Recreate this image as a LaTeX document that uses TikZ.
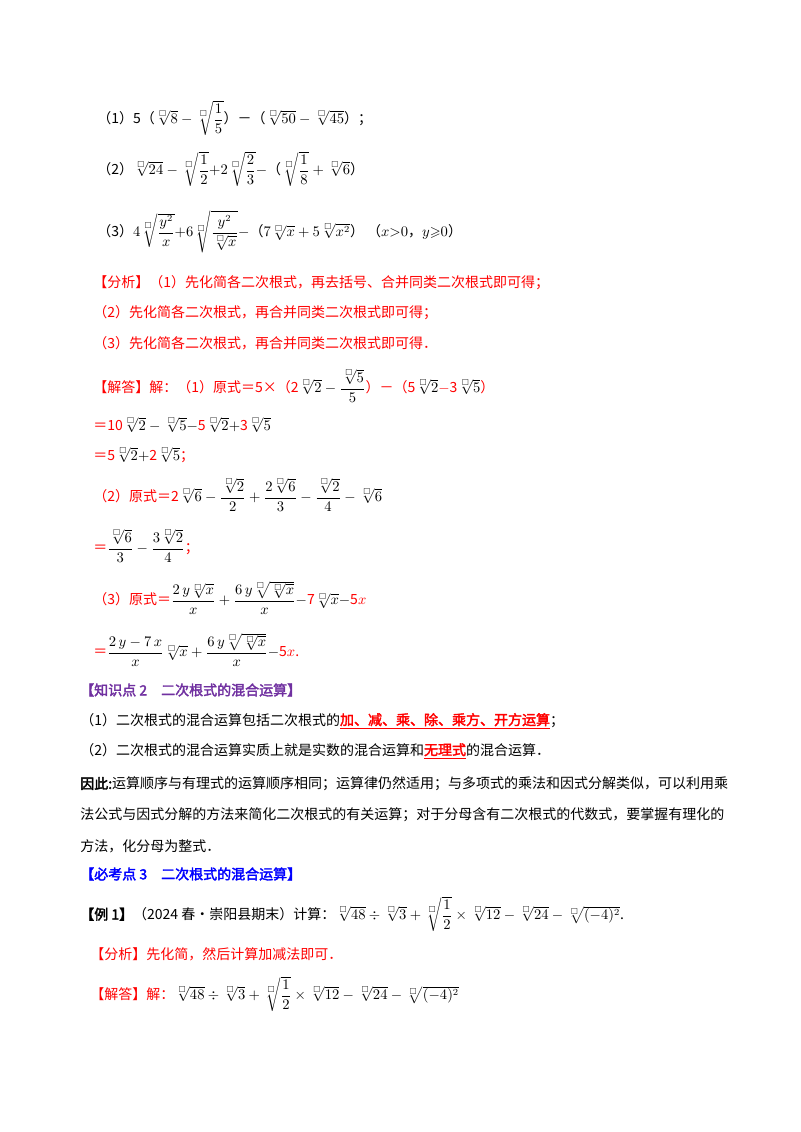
\documentclass[tikz,border=0pt]{standalone}
\usepackage{amsmath,amssymb}
\usepackage{fontspec}
\setmainfont{Noto Sans CJK SC}[AutoFakeBold=2.5]
\definecolor{rd}{RGB}{255,0,0}
\definecolor{pu}{RGB}{112,48,160}
\definecolor{bl}{RGB}{0,0,255}
\newcommand{\rt}[1]{\sqrt[\scriptscriptstyle\square]{#1}}
\begin{document}
\begin{tikzpicture}[x=0.75pt,y=-0.75pt,
  t/.style={anchor=west,inner sep=0pt,font=\fontsize{10.5}{12}\selectfont},
  r/.style={t,text=rd}]
\useasboundingbox (0,0) rectangle (800,1132);
\node[t] (p1) at (97,118) {（1）5（$\rt{8}-\rt{\dfrac{1}{5}}$）－（$\rt{50}-\rt{45}$）；};
\node[t] (p2) at (97,169) {（2）$\rt{24}-\rt{\dfrac{1}{2}}{+}2\rt{\dfrac{2}{3}}-$（$\rt{\dfrac{1}{8}}+\rt{6}$）};
\node[t] (p3) at (97,232) {（3）$4\rt{\dfrac{y^2}{x}}{+}6\rt{\dfrac{y^2}{\rt{x}}}-$（$7\rt{x}+5\rt{x^2}$）\ （$x{>}0$，$y{\geqslant}0$）};
\node[r] (a1) at (93,283) {【分析】（1）先化简各二次根式，再去括号、合并同类二次根式即可得；};
\node[r] (a2) at (93,313) {（2）先化简各二次根式，再合并同类二次根式即可得；};
\node[r] (a3) at (93,343) {（3）先化简各二次根式，再合并同类二次根式即可得．};
\node[r] (s1) at (93,386) {【解答】解：（1）原式＝5×（2$\color{black}\rt{2}-\dfrac{\rt{5}}{5}$）－（5$\color{black}\rt{2}$$-$3$\color{black}\rt{5}$）};
\node[r] (s2) at (93,425) {＝10$\color{black}\rt{2}-\rt{5}-$5$\color{black}\rt{2}+$3$\color{black}\rt{5}$};
\node[r] (s3) at (93,455) {＝5$\color{black}\rt{2}+$2$\color{black}\rt{5}$；};
\node[r] (s4) at (93,495) {（2）原式＝2$\color{black}\rt{6}-\dfrac{\rt{2}}{2}+\dfrac{2\rt{6}}{3}-\dfrac{\rt{2}}{4}-\rt{6}$};
\node[r] (s5) at (93,546) {＝$\color{black}\dfrac{\rt{6}}{3}-\dfrac{3\rt{2}}{4}$；};
\node[r] (s6) at (93,598) {（3）原式＝$\color{black}\dfrac{2\,y\rt{x}}{x}+\dfrac{6\,y\rt{\rt{x}}}{x}-$7$\color{black}\rt{x}-$5$x$};
\node[r] (s7) at (93,650) {＝$\color{black}\dfrac{2\,y-7\,x}{x}\rt{x}+\dfrac{6\,y\rt{\rt{x}}}{x}-$5$x$.};
\node[t,text=pu,font=\fontsize{10.5}{12}\selectfont\bfseries] (k0) at (80,690) {【知识点 2\quad 二次根式的混合运算】};
\node[t] (k1) at (80,721) {（1）二次根式的混合运算包括二次根式的{\color{rd}\bfseries\underline{加、减、乘、除、乘方、开方运算}}；};
\node[t] (k2) at (80,751) {（2）二次根式的混合运算实质上就是实数的混合运算和{\color{rd}\bfseries\underline{无理式}}的混合运算．};
\node[t] (k3) at (80,784) {{\bfseries 因此:}运算顺序与有理式的运算顺序相同；运算律仍然适用；与多项式的乘法和因式分解类似，可以利用乘};
\node[t] (k4) at (80,815) {法公式与因式分解的方法来简化二次根式的有关运算；对于分母含有二次根式的代数式，要掌握有理化的};
\node[t] (k5) at (80,846) {方法，化分母为整式．};
\node[t,text=bl,font=\fontsize{10.5}{12}\selectfont\bfseries] (b0) at (80,874) {【必考点 3\quad 二次根式的混合运算】};
\node[t] (e1) at (80,914) {{\bfseries 【例 1】}（2024 春•崇阳县期末）计算：$\rt{48}\div\rt{3}+\rt{\dfrac{1}{2}}\times\rt{12}-\rt{24}-\rt{(-4)^2}$.};
\node[r] (e2) at (90,954) {【分析】先化简，然后计算加减法即可．};
\node[r] (e3) at (90,994) {【解答】解：$\color{black}\rt{48}\div\rt{3}+\rt{\dfrac{1}{2}}\times\rt{12}-\rt{24}-\rt{(-4)^2}$};
\end{tikzpicture}
\end{document}
